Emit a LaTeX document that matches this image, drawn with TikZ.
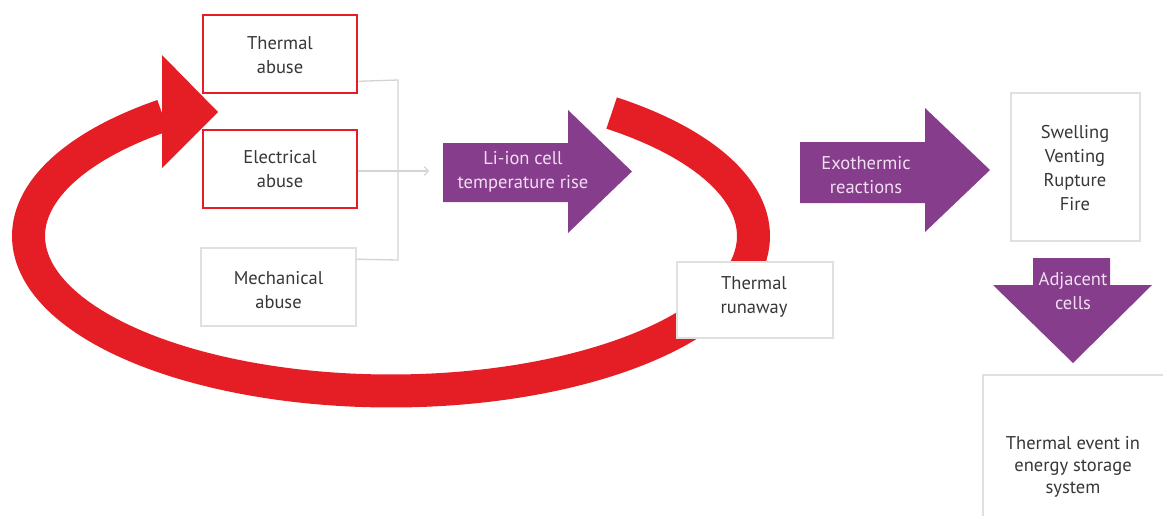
\documentclass[tikz,border=0pt]{standalone}
\usepackage{fontspec}
\setmainfont{PT Sans}
\usetikzlibrary{arrows.meta,calc}
\definecolor{fire}{RGB}{229,30,38}
\definecolor{plum}{RGB}{134,62,140}
\definecolor{pinktext}{RGB}{242,222,242}
\definecolor{boxgray}{RGB}{224,224,224}
\definecolor{linegray}{RGB}{212,212,212}
\definecolor{txt}{RGB}{55,55,55}
\begin{document}
\begin{tikzpicture}[x=1pt,y=-1pt,
  box/.style={draw=boxgray, line width=1.6pt, fill=white, text=txt, align=center,
    font=\fontsize{18.5}{24}\selectfont, inner sep=0pt},
  redbox/.style={box, draw=fire, line width=2.6pt},
  label/.style={text=txt, align=center, font=\fontsize{18.5}{24}\selectfont, inner sep=0pt},
  plabel/.style={text=pinktext, align=center, font=\fontsize{18.5}{24}\selectfont, inner sep=0pt},
  conn/.style={draw=linegray, line width=1.3pt},
  band/.style={draw=fire, line width=33pt, line cap=butt},
  purple/.style={fill=plum}
]
\useasboundingbox (0,0) rectangle (1163,515);
\fill[white] (0,0) rectangle (1163,515);
\clip (0,0) rectangle (1163,515);

% red feedback loop band
\draw[band] plot[domain=-52.5:231, samples=120, smooth]
  ({391+362.5*cos(\x)}, {236+155*sin(\x)});

% abuse boxes
\node[redbox, minimum width=154pt, minimum height=78pt] (thermal) at (280,54) {};
\node[label] (thermalt) at (280,55.5) {Thermal\\abuse};
\node[redbox, minimum width=154pt, minimum height=78pt] (electrical) at (280,169) {};
\node[label] (electricalt) at (280,169) {Electrical\\abuse};
\node[box, minimum width=155pt, minimum height=78pt] (mech) at (278.5,287) {};
\node[label] (mecht) at (278.5,290) {Mechanical\\abuse};

% connectors
\coordinate (j1) at (398,80);
\coordinate (j2) at (398,260);
\coordinate (tip) at (429,171);
\draw[conn] ([yshift=13pt]thermal.south east) -- (j1) -- (j2) -- ([yshift=-12pt]mech.north east);
\draw[conn, -{Straight Barb[length=4pt,width=9pt,line width=1.1pt]}] ([yshift=-2pt]electrical.east) -- (tip);

% purple arrow 1
\fill[purple] (443,143) -- (568,143) -- (568,110) -- (632,171.5) -- (568,233) -- (568,202) -- (443,202) -- cycle;
\node[plabel] (liion) at (523,172) {Li-ion cell\\temperature rise};

% thermal runaway box
\node[box, minimum width=156pt, minimum height=76pt] (runaway) at (755,300) {};
\node[label] (runawayt) at (754,297) {Thermal\\runaway};

% purple arrow 2
\fill[purple] (800,142) -- (925,142) -- (925,108) -- (990,170) -- (925,232) -- (925,203) -- (800,203) -- cycle;
\node[plabel] (exo) at (866,175) {Exothermic\\reactions};

% outcomes box
\node[box, minimum width=129pt, minimum height=148pt] (outcome) at (1075.5,167) {};
\node[label] (outcomet) at (1075,168) {Swelling\\Venting\\Rupture\\Fire};

% purple down arrow
\fill[purple] (1033,258) -- (1110,258) -- (1110,285) -- (1152,285) -- (1073,363) -- (993,285) -- (1033,285) -- cycle;
\node[plabel] (adj) at (1073,291) {Adjacent\\cells};

% thermal event box (cut off by picture edge)
\draw[draw=boxgray, line width=1.6pt, fill=white] (983,375) rectangle (1185,540);
\node[label, font=\fontsize{18.5}{22}\selectfont] (event) at (1073,467) {Thermal event in\\energy storage\\system};

% red arrow head
\fill[fire] (162,55) -- (218,112) -- (162,168) -- cycle;
\end{tikzpicture}
\end{document}
